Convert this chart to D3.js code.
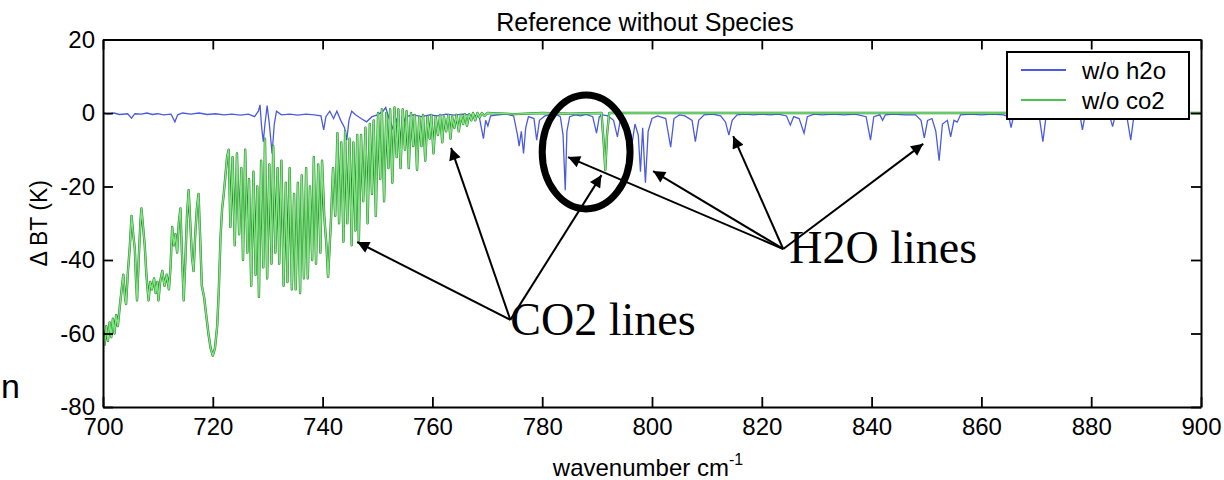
<!DOCTYPE html>
<html>
<head>
<meta charset="utf-8">
<script src="https://cdn.jsdelivr.net/npm/d3@7"></script>
<style>
  html, body { margin: 0; padding: 0; background: #fff; }
  svg { display: block; font-family: Arial, "Liberation Sans", Helvetica, sans-serif; }
</style>
</head>
<body>
<svg id="chart" width="1224" height="480"></svg>
<script>
// ---------------- DATA ----------------
const chartTitle = "Reference without Species";
const xTicks = [700, 720, 740, 760, 780, 800, 820, 840, 860, 880, 900];
const yTicks = [20, 0, -20, -40, -60, -80];
const seriesNames = ["w/o h2o", "w/o co2"];

// w/o co2 series: [wavenumber, ΔBT]
const co2Points = [
  [700.0,-59],[700.3,-63],[700.6,-58],[700.9,-62],[701.2,-57],[701.5,-61],[701.8,-56],[702.1,-60],
  [702.4,-55],[702.7,-58],[703.1,-52],[703.4,-48],[703.7,-44],[704.0,-50],[704.2,-52],[704.5,-44],
  [704.9,-36],[705.2,-28],[705.5,-33],[705.8,-37],[706.0,-45],[706.2,-51],[706.5,-40],[706.8,-30],
  [707.0,-26],[707.3,-31],[707.6,-36],[707.9,-44],[708.3,-51],[708.6,-46],[708.9,-48],[709.3,-45],
  [709.6,-49],[709.9,-46],[710.1,-51],[710.4,-46],[710.8,-43],[711.2,-47],[711.6,-44],[712.0,-48],
  [712.3,-42],[712.6,-31],[712.9,-36],[713.2,-33],[713.5,-38],[713.8,-30],[714.1,-26],[714.4,-39],
  [714.7,-51],[715.0,-40],[715.3,-28],[715.6,-21],[715.9,-30],[716.2,-39],[716.5,-43],[716.8,-33],
  [717.1,-26],[717.4,-22],[717.7,-34],[718.0,-47],[718.4,-50],[718.8,-55],[719.2,-60],[719.6,-64],
  [720.0,-66],[720.4,-64],[720.8,-58],[721.1,-48],[721.4,-34],[721.7,-26],[722.0,-22],[722.3,-17],
  [722.6,-12],[722.9,-10],[723.2,-31],[723.6,-12],[724.0,-36],[724.4,-11],[724.8,-33],[725.2,-15],
  [725.5,-40],[725.9,-10],[726.3,-38],[726.6,-18],[727.0,-47],[727.4,-16],[727.8,-44],[728.1,-20],
  [728.4,-50],[728.8,-13],[729.2,-42],[729.5,-7],[729.9,-45],[730.3,-14],[730.7,-41],[731.0,-9],
  [731.4,-38],[731.8,-15],[732.1,-41],[732.5,-13],[732.9,-47],[733.3,-19],[733.6,-46],[734.0,-15],
  [734.4,-48],[734.8,-22],[735.1,-48],[735.5,-19],[735.9,-49],[736.2,-17],[736.6,-45],[737.0,-15],
  [737.3,-45],[737.7,-20],[738.1,-40],[738.4,-12],[738.8,-41],[739.2,-14],[739.6,-38],[739.9,-13],
  [740.3,-28],[740.7,-36],[741.0,-44.6],[741.5,-30],[741.9,-15],[742.3,-28],[742.7,-5.5],[743.0,-30],
  [743.4,-8],[743.8,-35],[744.1,-5],[744.5,-30],[744.9,-7],[745.3,-36],[745.6,-8],[746.0,-32],
  [746.3,-6],[746.6,-35],[747.0,-6],[747.4,-24],[747.8,-4],[748.2,-30],[748.6,-3],[749.0,-22],
  [749.3,-2],[749.7,-28],[750.1,0],[750.5,-18],[750.8,1],[751.2,-24],[751.6,0],[752.0,-15],
  [752.3,1],[752.7,-19],[753.1,1.5],[753.5,-12],[753.8,1],[754.2,-15],[754.6,1],[755.0,-10],
  [755.3,0.5],[755.7,-15],[756.1,0],[756.5,-9],[756.8,-0.5],[757.2,-15.5],[757.6,-1],[758.0,-9],
  [758.3,-0.5],[758.7,-13],[759.1,-1],[759.5,-7],[759.8,-0.5],[760.2,-11],[760.6,-1],[761.0,-6],
  [761.4,-0.5],[761.8,-8],[762.1,-1],[762.5,-5],[762.9,-0.5],[763.3,-7],[763.6,-1],[764.0,-4],
  [764.4,-0.5],[764.8,-5],[765.2,-0.5],[765.6,-3],[765.9,-0.3],[766.3,-3.5],[766.7,-0.3],[767.1,-2],
  [767.4,0],[767.8,-2],[768.2,0],[768.6,-1.2],[769.0,0],[769.5,-0.8],[770.0,0],[775.0,-0.3],
  [780.0,0],[785.0,-0.2],[790.8,0],[791.2,-8],[791.5,-15.5],[791.8,-6],[792.2,0],[800.0,0],
  [820.0,0],[850.0,0],[900.0,0]
];

// w/o h2o series: [wavenumber, ΔBT]
const h2oPoints = [
  [700,0],[701,-0.3],[702,0],[703,-0.4],[704.5,-0.2],[705.2,-1.4],[705.8,-0.2],[707,-0.3],
  [708,0],[709,-0.4],[710,-0.2],[711,-0.5],[712.4,-0.3],[713.1,-2.4],[713.6,-0.5],[714.5,0],
  [716,-0.3],[717.5,0],[719,-0.4],[720.5,-0.2],[722,-0.5],[723.5,-0.3],[725,-0.6],[726.5,-0.3],
  [727.6,-1],[728.3,0.5],[728.6,2.2],[728.9,-4],[729.2,-7.8],[729.5,-3],[729.9,2],[730.3,-3],
  [730.8,-11],[731.2,-3],[731.6,0.5],[732.5,-0.5],[734,-0.3],[735.5,-0.6],[737,-0.3],[738.5,-0.5],
  [739.7,-0.8],[740.2,-4.6],[740.6,-1],[741.3,0.5],[742,-1.5],[742.6,0.5],[743.3,-2],[744.0,-4],
  [744.4,-7.4],[744.8,-2],[745.3,0.5],[746,-0.5],[747,-1.5],[748,-2.4],[749,-1],[750,-0.5],
  [751,0.5],[751.5,1.5],[752,-1],[752.9,-4.6],[753.5,-1.5],[754.1,-6.4],[754.6,-3],[755.2,-1],
  [756.5,-0.5],[758,-1],[759.5,-0.5],[761,-0.8],[762.5,-0.3],[764,-0.6],[765.5,-0.3],[767,-0.6],
  [768.5,-0.8],[769.3,-7],[769.7,-2],[770.1,-3.5],[770.6,-0.8],[772,-0.5],[773.5,-0.3],[774.8,-0.8],
  [775.5,-6],[775.8,-9],[776.2,-5],[776.6,-11],[777.0,-4],[777.5,-1],[778.5,-1.5],[779.0,-7.4],
  [779.5,-2],[780.5,-0.8],[781.5,-0.5],[782.5,-0.3],[783.3,-1],[783.8,-6],[784.2,-21],[784.5,-5],
  [785,-1],[786,-0.5],[787,-0.8],[788,-0.4],[789.2,-1],[789.9,-5.5],[790.4,-1],[791,-0.5],
  [792,-0.8],[793,-2],[793.7,-6.5],[794.2,-2],[795,-1.5],[795.8,-4],[796.4,-8],[796.9,-3],
  [797.5,-6],[797.9,-16],[798.3,-4],[798.8,-19],[799.3,-5],[800,-1.5],[801,-0.8],[802.5,-1.5],
  [803.4,-9.3],[804,-1.5],[805,-0.5],[806,-0.8],[807.3,-2],[807.9,-7.8],[808.5,-2],[809.5,-0.5],
  [811,-0.3],[812.5,-0.8],[813.4,-2.5],[814,-6],[814.6,-2],[815.5,-0.5],[817,-0.3],[818.5,-0.5],
  [820,-0.3],[821.5,-0.5],[823,-0.3],[824.5,-0.8],[825.2,-3.3],[825.8,-1],[826.8,-1.5],[827.7,-5.5],
  [828.3,-1],[829.5,-0.3],[831,-0.5],[833,-0.3],[835,-0.5],[837,-0.3],[839,-1],[839.8,-7.4],
  [840.4,-1],[841.5,-0.5],[842,-2],[842.5,-0.5],[844,-0.3],[846,-0.5],[848,-0.5],[849,-2],
  [849.6,-6.8],[850.2,-2],[851,-1.5],[851.7,-5],[852.3,-13],[852.9,-3],[853.8,-2],[854.4,-6.5],
  [855,-2],[855.6,-2.5],[856.2,-0.5],[858,-0.3],[860,-0.5],[862,-0.3],[864,-0.5],[865,-1],
  [865.4,-4],[865.9,-0.5],[868,-0.3],[870.5,-0.5],[871.2,-7.8],[871.8,-0.5],[874,-0.3],[876,-0.5],
  [878,-1],[878.4,-4.6],[878.9,-0.5],[881,-0.3],[883.4,-1],[883.9,-3.7],[884.4,-0.5],[886.5,-1],
  [887.2,-7.4],[887.8,-0.5],[890,-0.3],[895,-0.2],[900,0]
];

// Annotations (in data coordinates: wavenumber, ΔBT)
const circleNote = { cx: 788.0, cy: -10.6, rx: 8.0, ry: 15.5 };
const co2Label = { text: "CO2 lines", x: 774.2, y: -60.4 };
const co2Origin = [774.2, -56.3];
const co2Targets = [[746.3, -35.1], [763.4, -9.5], [790.8, -16.9]];
const h2oLabel = { text: "H2O lines", x: 825.0, y: -40.8 };
const h2oOrigin = [823.9, -37.0];
const h2oTargets = [[784.7, -12.0], [800.2, -15.8], [814.8, -6.3], [849.4, -8.4]];

// ---------------- DRAWING ----------------
const svg = d3.select("#chart");
const plot = { left: 103, right: 1201, top: 39.5, bottom: 407 };
const sans = "Arial, 'Liberation Sans', Helvetica, sans-serif";
const serif = "'Times New Roman', 'Liberation Serif', Times, serif";

const x = d3.scaleLinear().domain([700, 900]).range([plot.left, plot.right]);
const y = d3.scaleLinear().domain([-80, 20]).range([plot.bottom, plot.top]);

const colH2O = "#4a5be0";
const colCO2 = "#4cc24c";
const colCO2Dark = "#23832a";
const colCO2Light = "#80e480";

svg.append("defs").append("clipPath").attr("id", "clip")
  .append("rect").attr("x", plot.left).attr("y", plot.top)
  .attr("width", plot.right - plot.left).attr("height", plot.bottom - plot.top);

const line = d3.line().x(d => x(d[0])).y(d => y(d[1]));
const lines = svg.append("g").attr("clip-path", "url(#clip)");

lines.append("path").datum(h2oPoints)
  .attr("fill", "none").attr("stroke", colH2O).attr("stroke-width", 1.3)
  .attr("d", line);
lines.append("path").datum(co2Points)
  .attr("fill", "none").attr("stroke", colCO2Dark).attr("stroke-width", 2.4)
  .attr("stroke-linejoin", "round").attr("d", line);
lines.append("path").datum(co2Points)
  .attr("fill", "none").attr("stroke", colCO2Light).attr("stroke-width", 1.4)
  .attr("stroke-linejoin", "round").attr("d", line);

// Axes (Matlab style box, ticks inward)
const axStyle = g => {
  g.selectAll("path.domain").attr("stroke", "#000").attr("stroke-width", 2);
  g.selectAll(".tick line").attr("stroke", "#000").attr("stroke-width", 1.8);
  g.selectAll("text").attr("fill", "#000").style("font-size", "24px").style("font-family", sans);
};

svg.append("g").attr("transform", `translate(0,${plot.bottom})`)
  .call(d3.axisBottom(x).tickValues(xTicks).tickFormat(d3.format("d"))
    .tickSizeInner(-10).tickSizeOuter(0).tickPadding(11))
  .call(axStyle);
svg.append("g").attr("transform", `translate(0,${plot.top})`)
  .call(d3.axisTop(x).tickValues(xTicks).tickFormat("")
    .tickSizeInner(-10).tickSizeOuter(0))
  .call(axStyle);
svg.append("g").attr("transform", `translate(${plot.left},0)`)
  .call(d3.axisLeft(y).tickValues(yTicks).tickFormat(d3.format("d"))
    .tickSizeInner(-10).tickSizeOuter(0).tickPadding(8))
  .call(axStyle);
svg.append("g").attr("transform", `translate(${plot.right},0)`)
  .call(d3.axisRight(y).tickValues(yTicks).tickFormat("")
    .tickSizeInner(-10).tickSizeOuter(0))
  .call(axStyle);
svg.selectAll(".tick text").text(function() { return d3.select(this).text().replace("\u2212", "-"); });

// Title
svg.append("text").attr("x", 645).attr("y", 31).attr("text-anchor", "middle")
  .style("font-family", sans).style("font-size", "25px").text(chartTitle);

// Axis titles
const xl = svg.append("text").attr("x", 648).attr("y", 476).attr("text-anchor", "middle")
  .style("font-family", sans).style("font-size", "24px");
xl.append("tspan").text("wavenumber cm");
xl.append("tspan").attr("dy", -11).style("font-size", "16px").text("-1");

svg.append("text").attr("transform", `translate(47,${(plot.top + plot.bottom) / 2}) rotate(-90)`)
  .attr("text-anchor", "middle").style("font-family", sans).style("font-size", "23px")
  .text("\u0394 BT (K)");

// Legend
const lg = svg.append("g");
lg.append("rect").attr("x", 1007).attr("y", 52).attr("width", 182).attr("height", 67)
  .attr("fill", "#fff").attr("stroke", "#000").attr("stroke-width", 2);
[colH2O, colCO2].forEach((c, i) => {
  const yy = 70 + i * 30;
  lg.append("line").attr("x1", 1021).attr("x2", 1066).attr("y1", yy).attr("y2", yy)
    .attr("stroke", c).attr("stroke-width", 2);
  lg.append("text").attr("x", 1082).attr("y", yy + 9)
    .style("font-family", sans).style("font-size", "24px").text(seriesNames[i]);
});

// Annotations
const ann = svg.append("g");
ann.append("defs").append("marker").attr("id", "ah")
  .attr("viewBox", "0 0 10 10").attr("refX", 10).attr("refY", 5)
  .attr("markerWidth", 7).attr("markerHeight", 6).attr("markerUnits", "strokeWidth")
  .attr("orient", "auto")
  .append("path").attr("d", "M0,0 L10,5 L0,10 z").attr("fill", "#000");

ann.append("ellipse")
  .attr("cx", x(circleNote.cx)).attr("cy", y(circleNote.cy))
  .attr("rx", x(circleNote.cx + circleNote.rx) - x(circleNote.cx))
  .attr("ry", y(circleNote.cy - circleNote.ry) - y(circleNote.cy))
  .attr("fill", "none").attr("stroke", "#000").attr("stroke-width", 7);

function arrows(origin, targets) {
  targets.forEach(t => {
    ann.append("line")
      .attr("x1", x(origin[0])).attr("y1", y(origin[1]))
      .attr("x2", x(t[0])).attr("y2", y(t[1]))
      .attr("stroke", "#000").attr("stroke-width", 2)
      .attr("marker-end", "url(#ah)");
  });
}
arrows(co2Origin, co2Targets);
arrows(h2oOrigin, h2oTargets);

[co2Label, h2oLabel].forEach(l => {
  ann.append("text").attr("x", x(l.x)).attr("y", y(l.y))
    .style("font-family", serif).style("font-size", "46px").attr("fill", "#000").text(l.text);
});

// glyph at the left edge of the source image (kept fully visible)
svg.append("text").attr("x", 1).attr("y", 398)
  .style("font-family", sans).style("font-size", "34px").text("n");
</script>
</body>
</html>
